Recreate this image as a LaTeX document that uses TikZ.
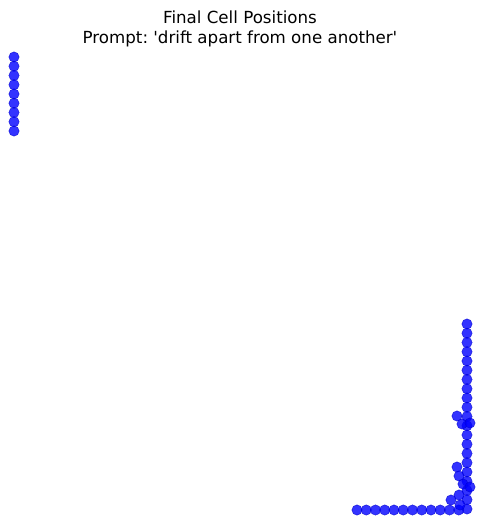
\documentclass[tikz,border=0pt]{standalone}
\usepackage{fontspec}
\setmainfont{DejaVu Sans}
\frenchspacing
\definecolor{cellblue}{RGB}{0,0,255}

\begin{document}
\begin{tikzpicture}[x=0.72pt,y=-0.72pt,
  cell/.style={circle,inner sep=0pt,minimum size=7.4pt,fill=cellblue,fill opacity=0.8,draw=cellblue!80!black,draw opacity=0.8,line width=0.3pt},
  caption/.style={font=\fontsize{12}{14.4}\selectfont,anchor=base,inner sep=0pt}]

\useasboundingbox (0,0) rectangle (481,525);

\node[caption] (title)  at (240,23) {Final Cell Positions};
\node[caption] (prompt) at (240,43) {Prompt: \textquotesingle drift apart from one another\textquotesingle};

% left column
\foreach \k in {0,...,8}
  \node[cell] (l\k) at (14,57+9.25*\k) {};

% right column
\foreach \k in {0,...,20}
  \node[cell] (r\k) at (467,324+9.25*\k) {};

% bottom row
\foreach \k in {0,...,11}
  \node[cell] (b\k) at (357+9.25*\k,510) {};

% loose cells near the corner
\foreach \x/\y [count=\i] in {457/416, 462/424, 470/423, 457/467, 459/476, 463/484, 470/487,
                               459/495, 451/500, 460/505}
  \node[cell] (c\i) at (\x,\y) {};
\end{tikzpicture}
\end{document}
